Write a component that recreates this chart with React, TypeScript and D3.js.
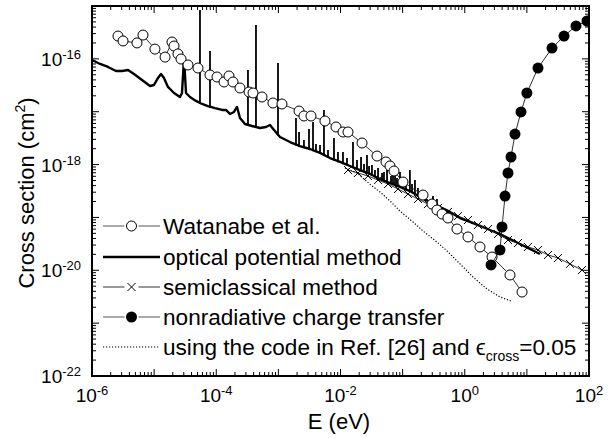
import React from "react";
import * as d3 from "d3";

type P = [number, number];

// ---- tick labels (exponents of ten) ----
const xTickExponents = [-6, -4, -2, 0, 2];
const yTickExponents = [-22, -20, -18, -16];

// ---- Watanabe et al. (open circles) [E (eV), sigma (cm^2)] ----
const watanabe: P[] = [
  [2.62e-6, 2.7e-16], [3.16e-6, 2.18e-16], [5.3e-6, 2.0e-16], [6.62e-6, 2.82e-16],
  [1.03e-5, 1.53e-16], [1.5e-5, 1.08e-16], [1.94e-5, 2.08e-16], [2.09e-5, 1.75e-16],
  [2.42e-5, 1.24e-16], [2.71e-5, 9.93e-17], [3.51e-5, 7.66e-17], [5.08e-5, 6.71e-17],
  [7.93e-5, 4.95e-17], [1.028e-4, 4.54e-17], [1.334e-4, 3.65e-17], [1.603e-4, 4.74e-17],
  [1.862e-4, 3.65e-17], [2.41e-4, 2.81e-17], [3.37e-4, 2.36e-17], [3.91e-4, 2.26e-17],
  [5.45e-4, 1.9e-17], [8.18e-4, 1.46e-17], [1.143e-3, 1.4e-17], [2.15e-3, 1.03e-17],
  [2.58e-3, 8.3e-18], [3.35e-3, 8.3e-18], [5.62e-3, 6.67e-18], [8.47e-3, 5.14e-18],
  [1.096e-2, 4.13e-18], [1.321e-2, 4.13e-18], [2.22e-2, 2.56e-18], [3.87e-2, 1.45e-18],
  [5.4e-2, 1.12e-18], [6.26e-2, 9.4e-19], [7.26e-2, 7.55e-19], [0.1014, 4.68e-19],
  [0.213, 2.65e-19], [0.297, 1.79e-19], [0.357, 1.38e-19], [0.431, 1.16e-19],
  [0.537, 9.75e-20], [0.75, 6.04e-20], [1.127, 4.27e-20], [1.758, 2.76e-20],
  [2.75, 1.78e-20], [5.35, 8.15e-21], [8.36, 3.88e-21],
];

// ---- optical potential method: smooth background ----
const opticalBaseline: P[] = [
  [1.0e-6, 9.5e-17], [1.35e-6, 8.0e-17], [1.81e-6, 7.02e-17], [2.43e-6, 5.89e-17],
  [3.04e-6, 5.89e-17], [3.8e-6, 6.15e-17], [4.74e-6, 5.18e-17], [6.38e-6, 3.98e-17],
  [8.58e-6, 3.07e-17], [9.95e-6, 3.2e-17], [1.155e-5, 4.35e-17], [1.29e-5, 5.18e-17],
  [1.44e-5, 4.35e-17], [1.67e-5, 2.94e-17], [2.09e-5, 2.26e-17], [2.61e-5, 1.9e-17],
  [2.81e-5, 2.26e-17], [3.03e-5, 1.04e-16], [3.26e-5, 2.26e-17], [3.78e-5, 1.9e-17],
  [4.72e-5, 1.6e-17], [5.9e-5, 1.4e-17], [7.36e-5, 1.28e-17], [9.55e-5, 1.17e-17],
  [1.238e-4, 1.08e-17], [1.435e-4, 1.08e-17], [1.665e-4, 9.06e-18], [1.93e-4, 9.89e-18],
  [2.16e-4, 1.23e-17], [2.41e-4, 7.6e-18], [2.9e-4, 5.86e-18], [3.76e-4, 5.37e-18],
  [5.06e-4, 4.92e-18], [6.32e-4, 5.14e-18], [7.33e-4, 5.61e-18], [8.51e-4, 4.51e-18],
  [1.062e-3, 3.33e-18], [1.539e-3, 2.67e-18], [2.23e-3, 2.24e-18], [3.23e-3, 1.97e-18],
  [4.68e-3, 1.66e-18], [6.78e-3, 1.33e-18], [9.82e-3, 1.12e-18], [1.422e-2, 9.4e-19],
  [2.06e-2, 7.89e-19], [2.98e-2, 6.64e-19], [4.32e-2, 5.33e-19], [6.26e-2, 4.48e-19],
  [9.07e-2, 3.77e-19], [0.1314, 3.16e-19], [0.1904, 2.43e-19], [0.2758, 1.96e-19],
  [0.3995, 1.57e-19], [0.579, 1.27e-19], [0.8386, 9.75e-20], [1.215, 8.2e-20],
  [1.76, 6.89e-20], [2.549, 5.78e-20], [3.693, 4.85e-20], [5.35, 3.91e-20],
  [7.75, 3.14e-20], [11.23, 2.53e-20], [16.26, 2.03e-20],
];

// ---- optical potential method: narrow resonances [E, peak sigma] ----
const opticalResonances: P[] = [
  [5.47e-5, 8.4e-16], [7.93e-5, 1.41e-16], [3.24e-4, 6.15e-17], [4.36e-4, 4.38e-16],
  [9.86e-4, 8.36e-17], [1.92e-3, 7.6e-18], [2.15e-3, 4.13e-18], [2.58e-3, 2.92e-18],
  [3.11e-3, 4.71e-18], [3.61e-3, 6.38e-18], [4.03e-3, 2.45e-18], [4.68e-3, 2.34e-18],
  [5.42e-3, 1.08e-17], [6.29e-3, 1.89e-18], [7.85e-3, 3.18e-18], [9.11e-3, 1.73e-18],
  [1.096e-2, 1.73e-18], [1.272e-2, 1.33e-18], [1.589e-2, 2.67e-18], [1.843e-2, 1.22e-18],
  [2.14e-2, 1.39e-18], [2.39e-2, 1.03e-18], [2.67e-2, 1.52e-18], [2.88e-2, 9.4e-19],
  [3.21e-2, 9.82e-19], [3.59e-2, 7.89e-19], [4.02e-2, 8.61e-19], [4.66e-2, 6.93e-19],
  [5.01e-2, 7.23e-19], [5.61e-2, 9.0e-19], [6.5e-2, 6.08e-19], [7.0e-2, 6.35e-19],
  [7.54e-2, 9.0e-19], [8.11e-2, 5.57e-19], [9.07e-2, 7.23e-19], [0.1014, 5.1e-19],
  [0.1133, 4.68e-19], [0.131, 7.89e-19], [0.1416, 4.28e-19], [0.158, 5.1e-19],
  [0.1766, 3.61e-19], [0.205, 3.3e-19], [0.238, 2.9e-19], [0.308, 2.54e-19],
  [0.357, 2.23e-19],
];

// ---- semiclassical method (crosses) ----
const semiclassical: P[] = [
  [0.0132, 7.89e-19], [0.0191, 6.93e-19], [0.0277, 6.08e-19], [0.0402, 5.1e-19],
  [0.0582, 4.28e-19], [0.0843, 3.45e-19], [0.122, 2.77e-19], [0.177, 2.23e-19],
  [0.256, 1.79e-19], [0.371, 1.51e-19], [0.537, 1.27e-19], [0.778, 1.06e-19],
  [1.13, 8.93e-20], [1.63, 7.19e-20], [2.37, 6.04e-20], [3.43, 4.85e-20],
  [4.97, 3.74e-20], [7.19, 3.28e-20], [10.4, 2.76e-20], [15.1, 2.42e-20],
  [21.9, 1.95e-20], [31.7, 1.71e-20], [49.4, 1.32e-20], [77.1, 1.01e-20],
];

// ---- nonradiative charge transfer (filled circles) ----
const nonradiative: P[] = [
  [2.65, 1.26e-20], [3.69, 2.42e-20], [3.98, 6.59e-20], [4.45, 2.54e-19],
  [4.97, 6.93e-19], [5.55, 1.39e-18], [6.44, 3.78e-18], [8.04, 9.89e-18],
  [10.0, 2.26e-17], [15.1, 6.71e-17], [25.4, 1.6e-16], [39.6, 2.7e-16],
  [61.8, 4.19e-16], [92.9, 5.2e-16],
];

// ---- code of Ref. [26], eps_cross = 0.05 (dotted) ----
const refCode: P[] = [
  [0.0118, 8.61e-19], [0.01845, 6.93e-19], [0.0321, 3.94e-19], [0.0433, 3.03e-19],
  [0.0627, 2.05e-19], [0.0908, 1.32e-19], [0.147, 8.2e-20], [0.213, 5.53e-20],
  [0.357, 3.43e-20], [0.518, 2.32e-20], [0.84, 1.32e-20], [1.36, 7.46e-21],
  [2.28, 4.43e-21], [3.69, 3.13e-21], [5.55, 2.62e-21],
];

const legendLabels = [
  "Watanabe et al.",
  "optical potential method",
  "semiclassical method",
  "nonradiative charge transfer",
  "using the code in Ref. [26] and ",
];

const FONT = "'Liberation Sans', Arial, Helvetica, sans-serif";

export default function App() {
  const W = 614, H = 438;
  const left = 92, right = 589, top = 6, bottom = 376;
  const x = d3.scaleLog().domain([1e-6, 1e2]).range([left, right]);
  const y = d3.scaleLog().domain([1e-22, 1e-15]).range([bottom, top]);
  const line = d3.line<P>().x((d) => x(d[0])).y((d) => y(d[1]));
  const baseLog = d3
    .scaleLinear()
    .domain(opticalBaseline.map((d) => Math.log10(d[0])))
    .range(opticalBaseline.map((d) => Math.log10(d[1])));

  const isMajor = (t: number) => Math.abs(Math.log10(t) - Math.round(Math.log10(t))) < 1e-6;
  const xt = x.ticks();
  const yt = y.ticks();

  const thin = "#1a1a1a";
  const legendX0 = 103, legendX1 = 160, legendMid = 131.5, legendText = 163;
  const rowY = [226, 257, 287, 317, 347];

  const cross = (cx: number, cy: number, s: number, key: string) => (
    <path key={key} d={`M${cx - s},${cy - s}L${cx + s},${cy + s}M${cx - s},${cy + s}L${cx + s},${cy - s}`} stroke="#000" strokeWidth={1} fill="none" />
  );

  return (
    <svg width={W} height={H} style={{ position: "absolute", left: 0, top: 0, background: "#fff" }} fontFamily={FONT}>
      <rect x={0} y={0} width={W} height={H} fill="#fff" />
      <defs>
        <clipPath id="plot">
          <rect x={left} y={top} width={right - left} height={bottom - top} />
        </clipPath>
      </defs>

      <g clipPath="url(#plot)">
        {/* optical potential method */}
        <path d={line(opticalBaseline) || ""} fill="none" stroke="#000" strokeWidth={2.4} strokeLinejoin="round" />
        {opticalResonances.map((d, i) => {
          const base = Math.pow(10, baseLog(Math.log10(d[0])));
          const px = x(d[0]);
          return <line key={"r" + i} x1={px} x2={px} y1={y(base) + 1} y2={y(d[1])} stroke="#000" strokeWidth={1.8} />;
        })}
        {/* Ref. [26] dotted */}
        <path d={line(refCode) || ""} fill="none" stroke="#000" strokeWidth={1.2} strokeDasharray="1.2 1.8" />
        {/* semiclassical */}
        <path d={line(semiclassical) || ""} fill="none" stroke={thin} strokeWidth={0.9} />
        {semiclassical.map((d, i) => cross(x(d[0]), y(d[1]), 4, "c" + i))}
        {/* Watanabe */}
        <path d={line(watanabe) || ""} fill="none" stroke={thin} strokeWidth={0.9} />
        {watanabe.map((d, i) => (
          <circle key={"w" + i} cx={x(d[0])} cy={y(d[1])} r={5} fill="#fff" stroke="#000" strokeWidth={1} />
        ))}
        {/* nonradiative */}
        <path d={line(nonradiative) || ""} fill="none" stroke={thin} strokeWidth={0.9} />
        {nonradiative.map((d, i) => (
          <circle key={"n" + i} cx={x(d[0])} cy={y(d[1])} r={5.5} fill="#000" />
        ))}
      </g>

      {/* ticks */}
      {xt.map((t, i) => {
        const px = x(t);
        const len = isMajor(t) ? 7 : 4;
        return (
          <g key={"xt" + i}>
            <line x1={px} x2={px} y1={bottom} y2={bottom - len} stroke="#000" strokeWidth={1} />
            <line x1={px} x2={px} y1={top} y2={top + len} stroke="#000" strokeWidth={1} />
          </g>
        );
      })}
      {yt.map((t, i) => {
        const py = y(t);
        const len = isMajor(t) ? 7 : 4;
        return (
          <g key={"yt" + i}>
            <line x1={left} x2={left + len} y1={py} y2={py} stroke="#000" strokeWidth={1} />
            <line x1={right} x2={right - len} y1={py} y2={py} stroke="#000" strokeWidth={1} />
          </g>
        );
      })}

      {/* frame */}
      <rect x={left} y={top} width={right - left} height={bottom - top} fill="none" stroke="#000" strokeWidth={2} />

      {/* tick labels */}
      {xTickExponents.map((e) => (
        <text key={"xl" + e} x={x(Math.pow(10, e))} y={402} textAnchor="middle" fontSize={19} fill="#000">
          10<tspan dy={-7} fontSize={13}>{e}</tspan>
        </text>
      ))}
      {yTickExponents.map((e) => (
        <text key={"yl" + e} x={81} y={y(Math.pow(10, e)) + 7} textAnchor="end" fontSize={19} fill="#000">
          10<tspan dy={-7} fontSize={13}>{e}</tspan>
        </text>
      ))}

      {/* axis titles */}
      <text x={339} y={429} textAnchor="middle" fontSize={22} fill="#000">E (eV)</text>
      <text transform="translate(34,193) rotate(-90)" textAnchor="middle" fontSize={22} fill="#000">
        Cross section (cm<tspan dy={-9} fontSize={14}>2</tspan><tspan dy={9}>)</tspan>
      </text>

      {/* legend */}
      <g>
        <line x1={legendX0} x2={legendMid - 7} y1={rowY[0]} y2={rowY[0]} stroke="#555" strokeWidth={1} />
        <line x1={legendMid + 7} x2={legendX1} y1={rowY[0]} y2={rowY[0]} stroke="#555" strokeWidth={1} />
        <circle cx={legendMid} cy={rowY[0]} r={5} fill="#fff" stroke="#000" strokeWidth={1} />

        <line x1={legendX0} x2={legendX1} y1={rowY[1]} y2={rowY[1]} stroke="#000" strokeWidth={2.4} />

        <line x1={legendX0} x2={legendMid - 7} y1={rowY[2]} y2={rowY[2]} stroke="#333" strokeWidth={1} />
        <line x1={legendMid + 7} x2={legendX1} y1={rowY[2]} y2={rowY[2]} stroke="#333" strokeWidth={1} />
        {cross(legendMid, rowY[2], 4, "lc")}

        <line x1={legendX0} x2={legendMid - 7} y1={rowY[3]} y2={rowY[3]} stroke="#555" strokeWidth={1} />
        <line x1={legendMid + 7} x2={legendX1} y1={rowY[3]} y2={rowY[3]} stroke="#555" strokeWidth={1} />
        <circle cx={legendMid} cy={rowY[3]} r={5.5} fill="#000" />

        <line x1={legendX0} x2={legendX1} y1={rowY[4]} y2={rowY[4]} stroke="#000" strokeWidth={1.2} strokeDasharray="1.2 1.8" />

        {legendLabels.map((s, i) => (
          <text key={"lg" + i} x={legendText} y={rowY[i] + 7.5} fontSize={22.6} fill="#000">
            {s}
            {i === 4 ? (
              <>
                <tspan>ϵ</tspan>
                <tspan dy={6} fontSize={14}>cross</tspan>
                <tspan dy={-6}>=0.05</tspan>
              </>
            ) : null}
          </text>
        ))}
      </g>
    </svg>
  );
}
